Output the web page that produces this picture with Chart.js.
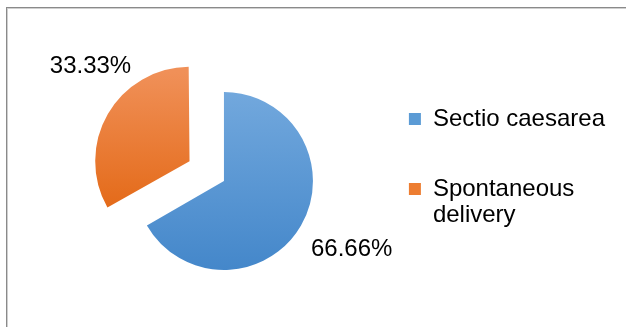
<!DOCTYPE html>
<html>
<head>
<meta charset="utf-8">
<script src="https://cdn.jsdelivr.net/npm/chart.js@4"></script>
<style>
  html, body { margin: 0; padding: 0; background: #fff; }
  #wrap { position: relative; width: 626px; height: 327px; overflow: hidden; }
  #frame { position: absolute; left: 6px; top: 7px; width: 700px; height: 400px;
           border-left: 1px solid #8a8a8a; border-top: 1px solid #8a8a8a;
           box-shadow: inset 1px 1px 0 #cfcfcf; pointer-events: none; }
  canvas { position: absolute; left: 0; top: 0; }
</style>
</head>
<body>
<div id="wrap">
  <canvas id="c" width="626" height="327"></canvas>
  <div id="frame"></div>
</div>
<script>
// ---- data ----
const categories = ['Sectio caesarea', 'Spontaneous delivery'];
const shares = [66.66, 33.33];
const pctLabels = ['66.66%', '33.33%'];

// ---- styling ----
const FONT = "'Liberation Sans', Arial, sans-serif";
const RADIUS = 89;
const gradStops = [
  ['#72a8dd', '#4487ca'],   // blue top -> bottom
  ['#f09058', '#e46b1a']    // orange top -> bottom
];
const fallback = ['#5b9bd5', '#ed7d31'];

function sliceColor(ctx) {
  const chart = ctx.chart;
  const area = chart.chartArea;
  const i = ctx.dataIndex;
  if (!area) return fallback[i];
  const cy = (area.top + area.bottom) / 2;
  const top = cy - RADIUS;
  const bottom = i === 0 ? cy + RADIUS : cy + RADIUS * 0.5;
  const g = chart.ctx.createLinearGradient(0, top, 0, bottom);
  g.addColorStop(0, gradStops[i][0]);
  g.addColorStop(1, gradStops[i][1]);
  return g;
}

// label placement relative to each slice's mid angle (styling only)
const labelAngleAdj = [-0.03, 0.25];
const labelDist = [56, 43];

const pctLabelPlugin = {
  id: 'pctLabels',
  afterDatasetsDraw(chart) {
    const ctx = chart.ctx;
    const meta = chart.getDatasetMeta(0);
    ctx.save();
    ctx.font = '24px ' + FONT;
    ctx.fillStyle = '#000';
    ctx.textAlign = 'center';
    ctx.textBaseline = 'middle';
    meta.data.forEach((arc, i) => {
      const p = arc.getProps(['x', 'y', 'startAngle', 'endAngle', 'outerRadius'], true);
      const off = (arc.options.offset || 0) / 4;
      const circ = p.endAngle - p.startAngle;
      const fix = 1 - Math.sin(Math.min(Math.PI, circ));
      const t = off + off * fix;
      const half = (p.startAngle + p.endAngle) / 2;
      const cx = p.x + Math.cos(half) * t;
      const cy = p.y + Math.sin(half) * t;
      const a = half + labelAngleAdj[i];
      const d = p.outerRadius + labelDist[i];
      ctx.fillText(pctLabels[i], cx + Math.cos(a) * d, cy + Math.sin(a) * d);
    });
    ctx.restore();
  }
};

function wrapText(text, maxChars) {
  if (text.length <= maxChars) return text;
  const words = text.split(' ');
  const lines = [];
  let cur = '';
  words.forEach(w => {
    if (cur && (cur + ' ' + w).length > maxChars) { lines.push(cur); cur = w; }
    else cur = cur ? cur + ' ' + w : w;
  });
  if (cur) lines.push(cur);
  return lines;
}

new Chart(document.getElementById('c'), {
  type: 'pie',
  data: {
    labels: categories,
    datasets: [{
      data: shares,
      backgroundColor: sliceColor,
      borderWidth: 0,
      offset: [0, 159],
      hoverOffset: 0
    }]
  },
  options: {
    responsive: false,
    animation: false,
    radius: RADIUS,
    rotation: 0,
    layout: { padding: { left: 85, right: 11, top: 61, bottom: 26 } },
    plugins: {
      tooltip: { enabled: false },
      legend: {
        position: 'right',
        align: 'start',
        labels: {
          boxWidth: 12,
          boxHeight: 12,
          padding: 46,
          color: '#000',
          font: { family: FONT, size: 24, lineHeight: 1.1 },
          generateLabels(chart) {
            const items = Chart.overrides.pie.plugins.legend.labels.generateLabels(chart);
            items.forEach((it, i) => {
              it.text = wrapText(categories[i], 16);
              it.fillStyle = fallback[i];
              it.strokeStyle = fallback[i];
              it.lineWidth = 0;
            });
            return items;
          }
        }
      }
    }
  },
  plugins: [pctLabelPlugin]
});
</script>
</body>
</html>
